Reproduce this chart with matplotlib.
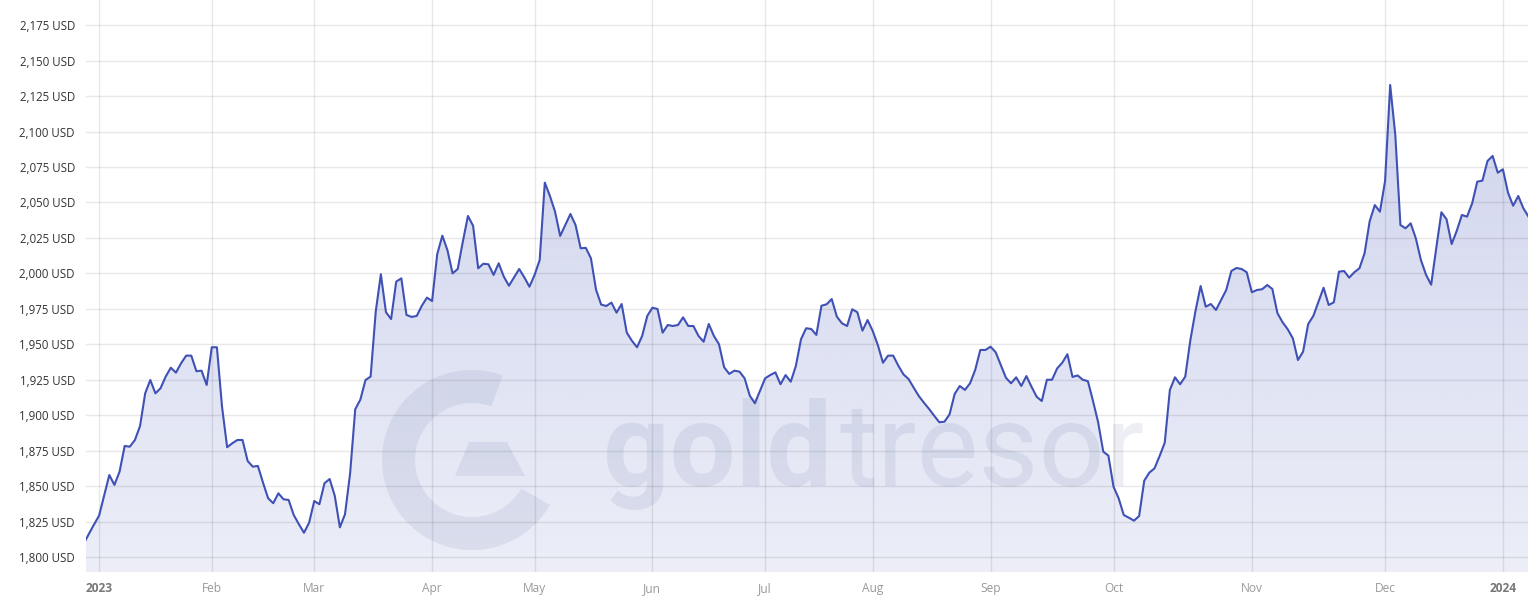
import numpy as np
import matplotlib
matplotlib.use('Agg')
import matplotlib.pyplot as plt
from matplotlib.patches import Wedge, Polygon
from matplotlib.ticker import FuncFormatter

# gold price, USD per ounce, one value per trading day (Jan 2023 - Jan 2024)
price = [
    1809.4, 1816.2, 1822.8, 1829.1, 1843.6, 1857.8, 1850.8, 1860.2, 1878.3, 1877.8,
    1882.5, 1892.4, 1915.4, 1924.8, 1915.4, 1919.0, 1927.2, 1933.5, 1930.0, 1936.6,
    1942.0, 1942.0, 1931.0, 1931.4, 1921.3, 1947.9, 1947.9, 1906.0, 1877.4, 1880.2,
    1882.5, 1882.5, 1867.7, 1863.7, 1864.2, 1852.4, 1841.4, 1837.9, 1844.9, 1840.7,
    1840.2, 1829.6, 1823.1, 1817.1, 1824.2, 1839.5, 1837.2, 1852.0, 1855.0, 1843.2,
    1820.9, 1830.1, 1859.0, 1904.2, 1911.0, 1924.8, 1927.2, 1973.0, 1999.4, 1972.6,
    1967.8, 1994.2, 1996.5, 1970.7, 1969.3, 1970.0, 1977.2, 1982.9, 1980.5, 2013.5,
    2026.6, 2016.3, 2000.0, 2003.1, 2022.4, 2040.5, 2033.6, 2003.6, 2006.8, 2006.4,
    1998.9, 2007.1, 1997.7, 1991.3, 1997.2, 2003.1, 1997.2, 1990.6, 1998.9, 2009.4,
    2064.0, 2054.6, 2043.5, 2026.4, 2034.1, 2041.9, 2034.1, 2017.7, 2018.0, 2010.7,
    1988.5, 1978.0, 1977.0, 1979.4, 1972.3, 1978.4, 1958.2, 1952.5, 1947.9, 1955.9,
    1970.0, 1975.8, 1974.9, 1958.2, 1963.6, 1962.9, 1963.6, 1969.0, 1962.9, 1962.9,
    1955.9, 1951.8, 1964.3, 1955.9, 1950.0, 1933.8, 1929.1, 1931.4, 1930.7, 1926.0,
    1913.8, 1908.4, 1917.3, 1926.0, 1928.3, 1930.2, 1921.8, 1928.3, 1923.6, 1934.7,
    1953.5, 1961.3, 1960.8, 1956.6, 1977.2, 1978.2, 1981.9, 1969.5, 1964.8, 1962.9,
    1974.7, 1972.6, 1959.6, 1967.1, 1959.4, 1949.5, 1937.0, 1942.0, 1942.0, 1934.9,
    1928.8, 1925.5, 1919.4, 1913.5, 1908.8, 1904.4, 1899.6, 1895.0, 1895.4, 1900.6,
    1915.0, 1920.6, 1917.8, 1922.5, 1931.9, 1946.0, 1946.0, 1948.3, 1944.4, 1935.4,
    1926.4, 1922.5, 1926.7, 1920.6, 1927.6, 1920.0, 1913.0, 1910.0, 1925.0, 1925.0,
    1933.0, 1937.0, 1943.0, 1927.0, 1928.0, 1925.0, 1924.0, 1910.0, 1895.0, 1874.3,
    1871.5, 1849.6, 1841.4, 1829.6, 1827.7, 1825.6, 1828.9, 1853.8, 1859.5, 1862.5,
    1871.2, 1880.6, 1917.8, 1926.7, 1921.8, 1927.2, 1953.0, 1973.5, 1991.1, 1976.5,
    1978.4, 1974.2, 1981.2, 1988.3, 2001.7, 2003.8, 2003.1, 2000.8, 1986.7, 1988.3,
    1988.8, 1991.8, 1989.0, 1971.9, 1965.5, 1960.6, 1954.2, 1938.9, 1944.8, 1964.3,
    1970.0, 1980.0, 1989.9, 1977.7, 1979.6, 2001.2, 2001.7, 1997.0, 2000.8, 2003.6,
    2014.2, 2036.8, 2048.2, 2043.5, 2065.0, 2132.9, 2097.6, 2034.1, 2031.8, 2035.3,
    2024.8, 2009.4, 1999.0, 1992.0, 2018.0, 2043.1, 2038.2, 2020.7, 2030.1, 2041.2,
    2040.0, 2049.4, 2064.7, 2065.4, 2079.3, 2082.8, 2071.0, 2073.4, 2056.9, 2047.7,
    2054.6, 2045.9, 2040.0,
]

# position (trading day index) of the first day of each month
month_idx = [3, 25, 45, 68, 88, 111, 133, 154, 177, 201, 228, 254, 277]
month_lbl = ['2023', 'Feb', 'Mar', 'Apr', 'May', 'Jun', 'Jul', 'Aug', 'Sep', 'Oct', 'Nov', 'Dec', '2024']
y_ticks = [1800, 1825, 1850, 1875, 1900, 1925, 1950, 1975, 2000, 2025, 2050, 2075, 2100, 2125, 2150, 2175]

line_col = '#3f51b5'
x = np.arange(len(price))
y_lo, y_hi = 1789.2, 2192.8
x_lo, x_hi = 0.45, 281.9

fig = plt.figure(figsize=(15.28, 6), dpi=100)

# watermark, drawn in pixel space behind the chart
bg = fig.add_axes([0, 0, 1, 1], zorder=0)
bg.set_xlim(0, 1528)
bg.set_ylim(600, 0)
bg.axis('off')
wm = '#eceef3'
bg.add_patch(Wedge((472, 460), 90, 30, 290, width=33, color=wm, lw=0))
bg.add_patch(Polygon([(469, 442), (507, 442), (525, 476), (455, 476)], closed=True, color=wm, lw=0))
bg.text(603, 486, 'gold', fontsize=84, fontfamily='Roboto', fontweight='bold', color=wm, va='baseline', ha='left')
bg.text(840, 486, 'tresor', fontsize=84, fontfamily='Roboto', fontweight='normal', color=wm, va='baseline', ha='left')

ax = fig.add_axes([86 / 1528, 27.7 / 600, 1 - 86 / 1528, 1 - 27.7 / 600], zorder=1)
ax.patch.set_alpha(0)

# area with vertical gradient
poly = ax.fill_between(x, price, y_lo, color='none', lw=0)
grad = np.zeros((256, 1, 4))
rgb = matplotlib.colors.to_rgb(line_col)
grad[:, 0, 0], grad[:, 0, 1], grad[:, 0, 2] = rgb
grad[:, 0, 3] = np.linspace(0.27, 0.10, 256)
im = ax.imshow(grad, extent=[x_lo, x_hi, y_lo, y_hi], origin='upper', aspect='auto', zorder=1)
im.set_clip_path(poly.get_paths()[0], transform=ax.transData)

ax.plot(x, price, color=line_col, lw=1.5, zorder=3, solid_joinstyle='round')

ax.set_xlim(x_lo, x_hi)
ax.set_ylim(y_lo, y_hi)
ax.set_yticks(y_ticks)
ax.yaxis.set_major_formatter(FuncFormatter(lambda v, p: '{:,.0f} USD'.format(v)))
ax.set_xticks(month_idx)
ax.set_xticklabels(month_lbl)
ax.grid(True, color='black', alpha=0.09, lw=1, zorder=2)
ax.set_axisbelow(False)
for s in ax.spines.values():
    s.set_visible(False)
ax.tick_params(axis='both', length=0)
ax.tick_params(axis='y', pad=8, labelsize=8.3, labelcolor='#333333')
ax.tick_params(axis='x', pad=7, labelsize=8.6, labelcolor='#999999')
for t in ax.get_yticklabels() + ax.get_xticklabels():
    t.set_fontfamily('Open Sans')
for t in ax.get_xticklabels():
    if t.get_text() in ('2023', '2024'):
        t.set_fontweight('bold')
        t.set_color('#777777')

fig.savefig('out.png', dpi=100, facecolor='white')
